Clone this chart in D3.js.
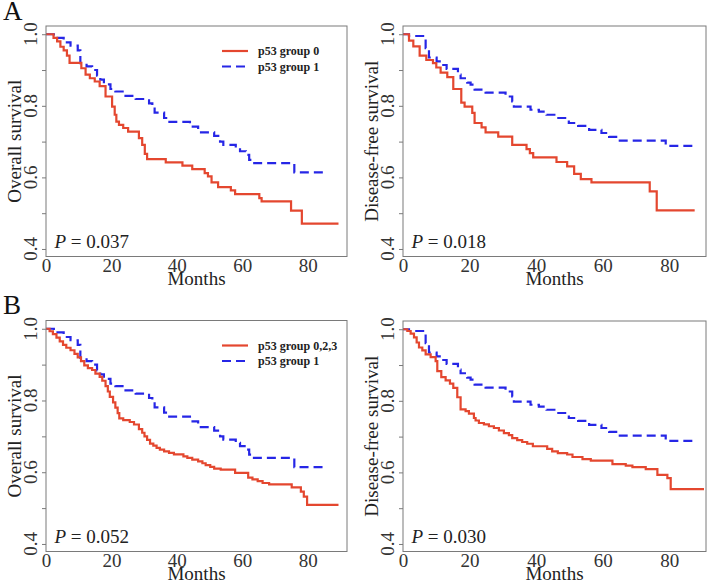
<!DOCTYPE html>
<html>
<head>
<meta charset="utf-8">
<script src="https://cdn.jsdelivr.net/npm/d3@7"></script>
<style>
  html, body { margin: 0; padding: 0; background: #fff; }
  svg { display: block; }
</style>
</head>
<body>
<script>
// ---------------- DATA ----------------
const monthTicks = [0, 20, 40, 60, 80];
const survTickLabels = [0.4, 0.6, 0.8, 1.0];
const survTickMarks = [0.4, 0.5, 0.6, 0.7, 0.8, 0.9, 1.0];
const panelLetters = ["A", "B"];
const yTitles = ["Overall survival", "Disease-free survival"];
const pValues = ["0.037", "0.018", "0.052", "0.030"];
const legendA = ["p53 group 0", "p53 group 1"];
const legendB = ["p53 group 0,2,3", "p53 group 1"];

// Overall survival, p53 group 0 (Kaplan-Meier step times / survival)
const osG0Time = [0, 2.3, 3.4, 4.4, 5.4, 6.4, 7.2, 10.8, 12.1, 13.4, 14.9, 16.4, 18.2, 20.2, 21.0, 21.5, 22.3, 23.6, 25.1, 28.4, 29.4, 30.2, 30.9, 36.6, 41.7, 44.7, 48.5, 49.5, 50.6, 52.6, 56.5, 57.8, 65.2, 65.9, 74.9, 78.2, 89.4];
const osG0Surv = [1.0, 0.99, 0.98, 0.965, 0.955, 0.94, 0.92, 0.905, 0.887, 0.877, 0.868, 0.855, 0.826, 0.798, 0.775, 0.756, 0.747, 0.738, 0.728, 0.71, 0.691, 0.666, 0.651, 0.642, 0.633, 0.623, 0.612, 0.603, 0.586, 0.573, 0.564, 0.553, 0.542, 0.533, 0.507, 0.471, 0.471];

// Overall survival, p53 group 1
const osG1Time = [0, 2.4, 5.4, 7.5, 9.7, 10.5, 12.4, 14.1, 15.6, 16.6, 17.7, 19.7, 21.2, 24.3, 27.4, 31.5, 32.5, 33.2, 36.1, 37.1, 44.0, 46.5, 51.4, 53.2, 54.2, 58.0, 59.3, 61.1, 62.1, 62.8, 75.9, 85.1];
const osG1Surv = [1.0, 0.99, 0.977, 0.968, 0.955, 0.919, 0.91, 0.9, 0.884, 0.873, 0.86, 0.847, 0.84, 0.828, 0.819, 0.807, 0.796, 0.781, 0.766, 0.755, 0.742, 0.726, 0.716, 0.7, 0.691, 0.682, 0.673, 0.663, 0.649, 0.64, 0.614, 0.614];

// Disease-free survival, p53 group 0
const dfsG0Time = [0, 1.8, 3.1, 5.0, 7.0, 9.0, 10.0, 11.3, 13.3, 15.1, 17.5, 18.5, 20.8, 21.5, 23.6, 24.8, 28.6, 32.8, 37.1, 38.1, 39.1, 46.1, 49.3, 51.4, 53.4, 56.6, 74.1, 76.2, 87.6];
const dfsG0Surv = [1.0, 0.982, 0.966, 0.94, 0.928, 0.919, 0.907, 0.893, 0.88, 0.847, 0.809, 0.798, 0.78, 0.752, 0.74, 0.726, 0.714, 0.691, 0.679, 0.668, 0.656, 0.643, 0.631, 0.61, 0.595, 0.586, 0.561, 0.508, 0.508];

// Disease-free survival, p53 group 1
const dfsG1Time = [0, 1.8, 6.8, 7.8, 10.1, 11.5, 13.1, 16.5, 17.3, 19.3, 20.3, 21.5, 24.8, 30.8, 32.8, 33.3, 38.3, 40.8, 43.1, 46.3, 49.8, 52.6, 55.9, 59.6, 61.9, 64.4, 78.9, 86.9];
const dfsG1Surv = [1.0, 0.995, 0.961, 0.935, 0.924, 0.914, 0.903, 0.887, 0.877, 0.865, 0.859, 0.845, 0.837, 0.826, 0.812, 0.798, 0.789, 0.784, 0.775, 0.766, 0.752, 0.744, 0.733, 0.724, 0.713, 0.703, 0.688, 0.688];

// Overall survival, p53 group 0,2,3
const osG023Time = [0, 1.1, 2.1, 3.2, 4.2, 5.2, 6.2, 7.5, 8.7, 9.7, 10.7, 11.7, 12.8, 14.1, 15.1, 16.4, 17.2, 18.2, 18.9, 19.5, 20.5, 21.2, 21.9, 22.4, 23.6, 25.6, 26.9, 28.4, 29.4, 30.1, 30.9, 31.8, 32.8, 33.8, 34.8, 36.1, 37.6, 39.1, 42.0, 43.2, 44.7, 46.5, 47.8, 48.8, 50.2, 51.4, 53.4, 57.8, 61.8, 63.1, 64.7, 66.2, 68.2, 75.1, 77.9, 78.8, 79.8, 89.4];
const osG023Surv = [1.0, 0.993, 0.985, 0.975, 0.965, 0.955, 0.947, 0.94, 0.93, 0.92, 0.91, 0.898, 0.89, 0.885, 0.875, 0.866, 0.855, 0.84, 0.825, 0.81, 0.795, 0.78, 0.765, 0.75, 0.745, 0.74, 0.733, 0.72, 0.71, 0.70, 0.69, 0.68, 0.674, 0.668, 0.663, 0.658, 0.654, 0.65, 0.644, 0.64, 0.635, 0.63, 0.625, 0.62, 0.615, 0.61, 0.607, 0.598, 0.585, 0.58, 0.575, 0.57, 0.566, 0.558, 0.546, 0.532, 0.509, 0.509];

// Disease-free survival, p53 group 0,2,3
const dfsG023Time = [0, 1.3, 2.3, 3.3, 4.1, 4.8, 5.8, 6.8, 8.3, 9.8, 10.3, 11.5, 12.8, 14.1, 15.1, 16.3, 17.3, 18.8, 19.8, 21.3, 21.8, 22.8, 24.3, 25.8, 27.3, 28.8, 30.3, 31.8, 32.8, 34.3, 35.8, 37.3, 39.0, 43.3, 44.8, 46.5, 49.3, 50.9, 53.9, 56.4, 62.9, 66.9, 68.9, 72.9, 76.4, 79.4, 80.4, 90.4];
const dfsG023Surv = [1.0, 0.995, 0.988, 0.977, 0.963, 0.949, 0.941, 0.93, 0.922, 0.911, 0.883, 0.866, 0.857, 0.848, 0.836, 0.81, 0.776, 0.771, 0.764, 0.752, 0.745, 0.738, 0.734, 0.729, 0.724, 0.717, 0.71, 0.704, 0.696, 0.69, 0.685, 0.68, 0.673, 0.666, 0.659, 0.654, 0.65, 0.643, 0.637, 0.633, 0.623, 0.619, 0.615, 0.609, 0.593, 0.584, 0.553, 0.553];

// ---------------- DRAW ----------------
const W = 708, H = 584;
const RED = "#e4472f", BLUE = "#2626e6", AXIS = "#7a7a7a";
const FONT = "'Liberation Serif', 'Times New Roman', serif";

const svg = d3.select("body").append("svg").attr("width", W).attr("height", H);

const panels = [
  { box: {l: 46, r: 347, t: 26, b: 256.5}, xmax: 92, title: yTitles[0], p: pValues[0], legend: legendA,
    red: [osG0Time, osG0Surv], blue: [osG1Time, osG1Surv], letter: panelLetters[0], letterY: 20 },
  { box: {l: 403, r: 706, t: 26, b: 256.5}, xmax: 91, title: yTitles[1], p: pValues[1], legend: null,
    red: [dfsG0Time, dfsG0Surv], blue: [dfsG1Time, dfsG1Surv] },
  { box: {l: 46, r: 347, t: 320.5, b: 551.5}, xmax: 92, title: yTitles[0], p: pValues[2], legend: legendB,
    red: [osG023Time, osG023Surv], blue: [osG1Time, osG1Surv], letter: panelLetters[1], letterY: 313.5 },
  { box: {l: 403, r: 706, t: 321, b: 551.5}, xmax: 91, title: yTitles[1], p: pValues[3], legend: null,
    red: [dfsG023Time, dfsG023Surv], blue: [dfsG1Time, dfsG1Surv] }
];

panels.forEach(pn => {
  const b = pn.box;
  const x = d3.scaleLinear().domain([0, pn.xmax]).range([b.l, b.r]);
  const y = d3.scaleLinear().domain([0.379, 1.023]).range([b.b, b.t]);
  const g = svg.append("g");

  // panel letter
  if (pn.letter) {
    g.append("text").attr("x", 3).attr("y", pn.letterY)
      .attr("font-family", FONT).attr("font-size", 27).attr("fill", "#111")
      .text(pn.letter);
  }

  // y axis ticks
  const yAxis = d3.axisLeft(y).tickValues(survTickMarks).tickSize(4).tickFormat("");
  const ya = g.append("g").attr("transform", `translate(${b.l},0)`).call(yAxis);
  ya.select(".domain").remove();
  ya.selectAll("line").attr("stroke", AXIS);

  // y tick labels (rotated)
  g.selectAll(".ylab").data(survTickLabels).enter().append("text")
    .attr("transform", d => `translate(${b.l - 9.5},${y(d)}) rotate(-90)`)
    .attr("text-anchor", "middle")
    .attr("font-family", FONT).attr("font-size", 19).attr("fill", "#333")
    .text(d => d3.format(".1f")(d));

  // y title
  g.append("text")
    .attr("transform", `translate(${b.l - 25},${(b.t + b.b) / 2}) rotate(-90)`)
    .attr("text-anchor", "middle")
    .attr("font-family", FONT).attr("font-size", 19).attr("fill", "#222")
    .text(pn.title);

  // x axis labels
  const xAxis = d3.axisBottom(x).tickValues(monthTicks).tickSize(0).tickFormat(d3.format("d"));
  const xa = g.append("g").attr("transform", `translate(0,${b.b})`).call(xAxis);
  xa.select(".domain").remove();
  xa.selectAll("text").attr("y", 15.5).attr("dy", 0)
    .attr("font-family", FONT).attr("font-size", 19).attr("fill", "#333");

  // x title
  g.append("text").attr("x", (b.l + b.r) / 2).attr("y", b.b + 28.5)
    .attr("text-anchor", "middle")
    .attr("font-family", FONT).attr("font-size", 19).attr("fill", "#222")
    .text("Months");

  // curves
  const line = d3.line().x(d => x(d[0])).y(d => y(d[1])).curve(d3.curveStepAfter);
  const toPts = s => s[0].map((t, i) => [t, s[1][i]]);
  g.append("path").attr("d", line(toPts(pn.blue)))
    .attr("fill", "none").attr("stroke", BLUE).attr("stroke-width", 2.2)
    .attr("stroke-dasharray", "9,5");
  g.append("path").attr("d", line(toPts(pn.red)))
    .attr("fill", "none").attr("stroke", RED).attr("stroke-width", 2.2);

  // box
  g.append("rect").attr("x", b.l).attr("y", b.t)
    .attr("width", b.r - b.l).attr("height", b.b - b.t)
    .attr("fill", "none").attr("stroke", AXIS).attr("stroke-width", 1);

  // p value
  const pt = g.append("text").attr("x", b.l + 8.5).attr("y", b.b - 8.5)
    .attr("font-family", FONT).attr("font-size", 19).attr("fill", "#222");
  pt.append("tspan").attr("font-style", "italic").text("P");
  pt.append("tspan").text(" = " + pn.p);

  // legend
  if (pn.legend) {
    const cols = [RED, BLUE], dashes = [null, "9,5"];
    pn.legend.forEach((lab, i) => {
      const ly = b.t + 25 + i * 15.5;
      g.append("line").attr("x1", b.l + 176).attr("x2", b.l + 202)
        .attr("y1", ly).attr("y2", ly)
        .attr("stroke", cols[i]).attr("stroke-width", 2.2)
        .attr("stroke-dasharray", dashes[i]);
      g.append("text").attr("x", b.l + 212).attr("y", ly + 4)
        .attr("font-family", FONT).attr("font-size", 12).attr("font-weight", "bold")
        .attr("fill", "#222").text(lab);
    });
  }
});
</script>
</body>
</html>
